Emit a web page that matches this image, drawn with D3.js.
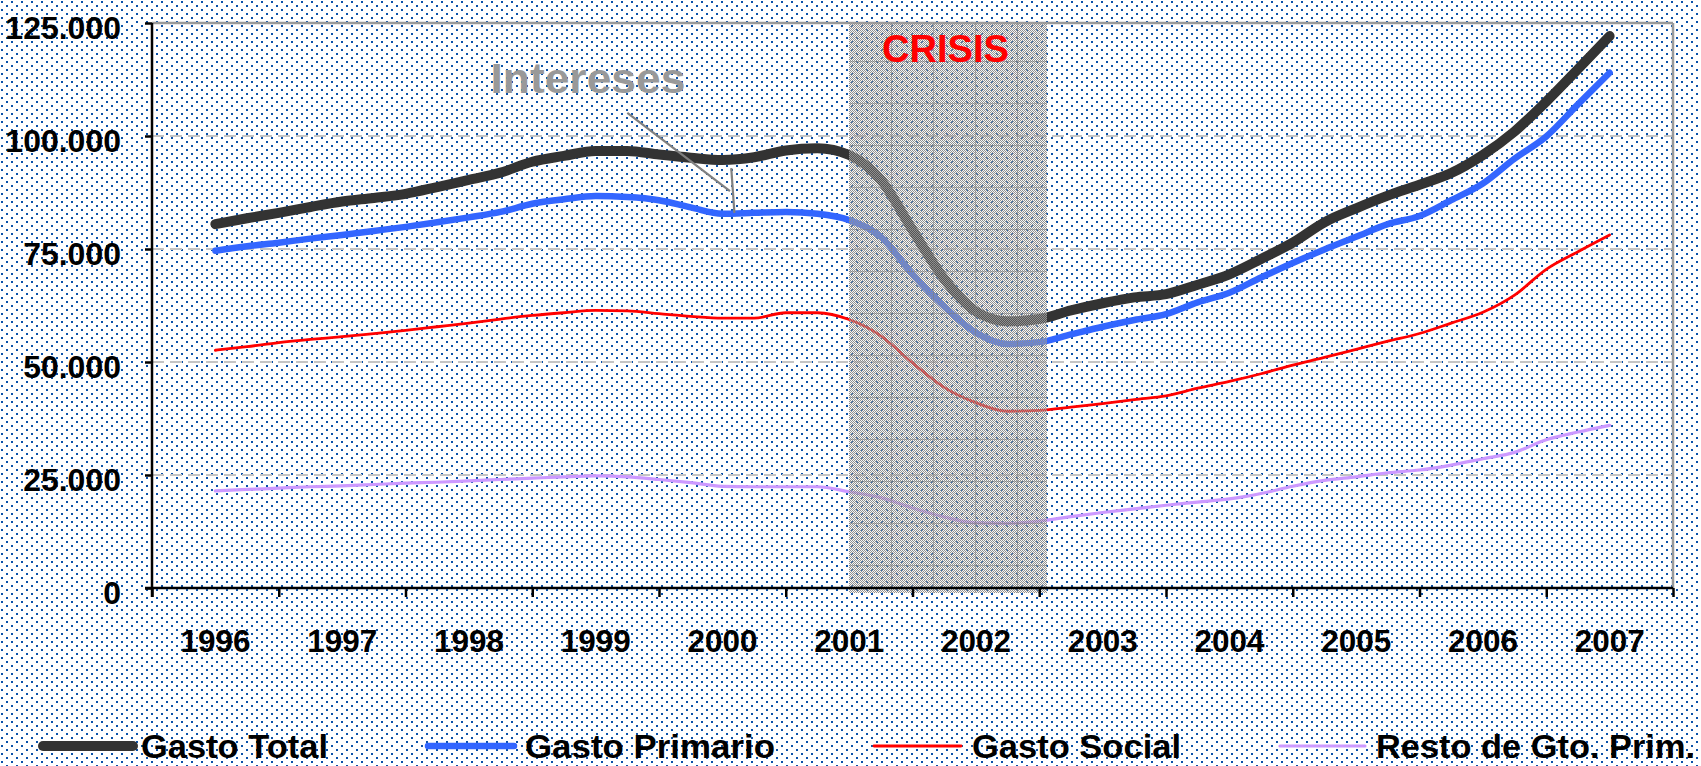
<!DOCTYPE html>
<html>
<head>
<meta charset="utf-8">
<script src="https://cdn.jsdelivr.net/npm/d3@7"></script>
<style>
  html, body { margin: 0; padding: 0; background: #fff; }
  svg { display: block; }
  text { font-family: "Liberation Sans", Arial, sans-serif; font-weight: bold; }
</style>
</head>
<body>
<svg id="chart" width="1701" height="766"></svg>
<script>
// ---------------- DATA ----------------
const years = ["1996","1997","1998","1999","2000","2001","2002","2003","2004","2005","2006","2007"];
const yTicks = [0, 25000, 50000, 75000, 100000, 125000];

const periods = [1996.5,1996.75,1997,1997.25,1997.5,1997.75,1998,1998.25,1998.5,1998.75,
  1999,1999.25,1999.5,1999.75,2000,2000.25,2000.5,2000.75,2001,2001.25,
  2001.5,2001.75,2002,2002.25,2002.5,2002.75,2003,2003.25,2003.5,2003.75,
  2004,2004.25,2004.5,2004.75,2005,2005.25,2005.5,2005.75,2006,2006.25,
  2006.5,2006.75,2007,2007.25,2007.5];

const gastoTotal = [80500,81800,83000,84300,85500,86300,87200,88700,90300,91900,
  94300,95600,96700,96700,95900,95200,94700,95300,96800,97300,
  95800,90300,79200,68400,61200,59000,59500,61400,63000,64300,
  65000,67100,69400,72800,76400,80900,84000,86800,89200,91800,
  95800,101000,107600,114800,122100];

const gastoPrimario = [74600,75600,76400,77300,78100,79000,79900,80900,82000,83200,
  85000,86000,86700,86500,85800,84200,82800,83000,83200,82800,
  81400,77700,69400,62300,56500,54000,54400,56100,57800,59300,
  60600,63200,65300,68700,71900,74900,77700,80500,82300,85800,
  89500,95000,99900,107000,114000];

const gastoSocial = [52600,53400,54300,55000,55600,56300,57000,57800,58600,59500,
  60300,60900,61400,61300,60700,60100,59700,59700,60900,60900,
  59400,55800,49800,44400,41000,39100,39300,40000,40800,41700,
  42500,44200,45700,47400,49300,51000,52800,54600,56300,58600,
  61000,64800,70500,74400,78100];

const restoPrim = [21500,21800,22100,22400,22600,22900,23200,23400,23700,24000,
  24300,24600,24800,24600,24000,23300,22500,22400,22400,22400,
  21300,20000,17700,15700,14400,14300,14800,15800,16700,17500,
  18300,19000,19700,20900,22500,23800,24600,25500,26100,27200,
  28600,30000,32800,34500,36000];

const seriesNames  = ["Gasto Total", "Gasto Primario", "Gasto Social", "Resto de Gto. Prim."];
const seriesValues = [gastoTotal, gastoPrimario, gastoSocial, restoPrim];
const seriesColors = ["#333333", "#3366ff", "#ff0000", "#cc99ff"];
const seriesWidths = [10, 6.5, 2.8, 3.2];

const crisisSpan = [2001.5, 2003.06];
const crisisLabel = "CRISIS";
const crisisLabelPos = [2002.26, 116400];
const interesesLabel = "Intereses";
const interesesLabelPos = [1998.67, 109500];
const interesesPointers = [
  [[1999.75, 105100], [2000.56, 87800]],
  [[2000.57, 92900], [2000.595, 83000]]
];

// ---------------- LAYOUT ----------------
const W = 1701, H = 766;
const plot = { left: 152, right: 1673, top: 23, bottom: 588 };

const svg = d3.select("#chart");
const defs = svg.append("defs");

// background dot pattern
const dots = defs.append("pattern").attr("id", "dots")
  .attr("width", 10).attr("height", 8).attr("patternUnits", "userSpaceOnUse");
dots.append("rect").attr("width", 10).attr("height", 8).attr("fill", "#ffffff");
dots.append("rect").attr("x", 1).attr("y", 1).attr("width", 2).attr("height", 2).attr("fill", "#0a50a8");
dots.append("rect").attr("x", 6).attr("y", 5).attr("width", 2).attr("height", 2).attr("fill", "#0a50a8");

// crisis checker pattern
const chk = defs.append("pattern").attr("id", "checker")
  .attr("width", 2).attr("height", 2).attr("patternUnits", "userSpaceOnUse");
chk.append("rect").attr("x", 0).attr("y", 0).attr("width", 1).attr("height", 1).attr("fill", "#909090");
chk.append("rect").attr("x", 1).attr("y", 1).attr("width", 1).attr("height", 1).attr("fill", "#909090");
chk.append("rect").attr("x", 1).attr("y", 0).attr("width", 1).attr("height", 1).attr("fill", "#d8d8d8").attr("fill-opacity", 0.2);
chk.append("rect").attr("x", 0).attr("y", 1).attr("width", 1).attr("height", 1).attr("fill", "#d8d8d8").attr("fill-opacity", 0.2);

svg.append("rect").attr("width", W).attr("height", H).attr("fill", "url(#dots)");

// scales
const x = d3.scaleLinear().domain([1996, 2008]).range([plot.left, plot.right]);
const xBand = d3.scaleBand().domain(years).range([plot.left, plot.right]);
const y = d3.scaleLinear().domain([0, 125000]).range([plot.bottom, plot.top]);

// gridlines
svg.append("g").selectAll("line").data(yTicks.filter(d => d > 0 && d < 125000)).join("line")
  .attr("x1", plot.left).attr("x2", plot.right)
  .attr("y1", d => y(d)).attr("y2", d => y(d))
  .attr("stroke", "#c4c4c4").attr("stroke-width", 2).attr("stroke-dasharray", "12,6");

// plot frame top & right
svg.append("line").attr("x1", plot.left).attr("x2", plot.right).attr("y1", y(125000)).attr("y2", y(125000))
  .attr("stroke", "#9a9a9a").attr("stroke-width", 2.5);
svg.append("line").attr("x1", plot.right).attr("x2", plot.right).attr("y1", plot.top).attr("y2", plot.bottom)
  .attr("stroke", "#9a9a9a").attr("stroke-width", 2.5);

// lines
const line = d3.line().x((d, i) => x(periods[i])).y(d => y(d)).curve(d3.curveMonotoneX);
svg.append("g").selectAll("path").data(seriesValues).join("path")
  .attr("d", d => line(d))
  .attr("fill", "none")
  .attr("stroke", (d, i) => seriesColors[i])
  .attr("stroke-width", (d, i) => seriesWidths[i])
  .attr("stroke-linecap", "round").attr("stroke-linejoin", "round");

// crisis band (on top of lines, semi-transparent checker)
const cx0 = x(crisisSpan[0]), cx1 = x(crisisSpan[1]);
svg.append("rect").attr("x", cx0).attr("y", plot.top).attr("width", cx1 - cx0).attr("height", plot.bottom + 5 - plot.top)
  .attr("fill", "url(#checker)").attr("shape-rendering", "crispEdges");
const cg = svg.append("g").attr("stroke", "#7a7a7a").attr("stroke-width", 1).attr("stroke-opacity", 0.5)
  .attr("shape-rendering", "crispEdges");
d3.range(cx0 + 42, cx1, 42).forEach(v => cg.append("line").attr("x1", v).attr("x2", v).attr("y1", plot.top).attr("y2", plot.bottom + 5));
d3.range(plot.top + 38, plot.bottom, 42).forEach(v => cg.append("line").attr("x1", cx0).attr("x2", cx1).attr("y1", v).attr("y2", v));

svg.append("text").attr("x", x(crisisLabelPos[0])).attr("y", y(crisisLabelPos[1]))
  .attr("text-anchor", "middle").attr("font-size", 39).attr("fill", "#ff0000")
  .attr("textLength", 127).attr("lengthAdjust", "spacingAndGlyphs").text(crisisLabel);

// axes
const yAxis = d3.axisLeft(y).tickValues(yTicks).tickSize(7).tickPadding(24)
  .tickFormat(d => d3.format(",")(d).replace(/,/g, "."));
const gy = svg.append("g").attr("transform", `translate(${plot.left},0)`).call(yAxis);
gy.select(".domain").attr("stroke", "#000").attr("stroke-width", 2.5).attr("d", `M0,${plot.top}V${plot.bottom + 9}`);
gy.selectAll(".tick line").attr("stroke", "#000").attr("stroke-width", 2.5);
gy.selectAll(".tick text").attr("font-size", 32).attr("fill", "#000").attr("font-family", "Liberation Sans, Arial, sans-serif")
  .attr("font-weight", "bold").attr("dy", "0.47em");

// x axis line + ticks at year boundaries
const xTickAxis = d3.axisBottom(x).tickValues(d3.range(1996, 2009)).tickSize(9).tickFormat("");
const gx = svg.append("g").attr("transform", `translate(0,${plot.bottom})`).call(xTickAxis);
gx.select(".domain").attr("stroke", "#000").attr("stroke-width", 2.5).attr("d", `M${plot.left - 7},0H${plot.right}`);
gx.selectAll(".tick line").attr("stroke", "#000").attr("stroke-width", 2.5);

const xLabelAxis = d3.axisBottom(xBand).tickSize(0).tickPadding(0);
const gxl = svg.append("g").attr("transform", `translate(0,${plot.bottom})`).call(xLabelAxis);
gxl.select(".domain").remove();
gxl.selectAll(".tick text").attr("font-size", 32).attr("fill", "#000").attr("font-family", "Liberation Sans, Arial, sans-serif")
  .attr("font-weight", "bold").attr("dy", 0).attr("y", 64).attr("textLength", 70).attr("lengthAdjust", "spacingAndGlyphs");

// Intereses annotation
svg.append("text").attr("x", x(interesesLabelPos[0])).attr("y", y(interesesLabelPos[1]))
  .attr("font-size", 43).attr("fill", "#999999").attr("textLength", 195).attr("lengthAdjust", "spacingAndGlyphs")
  .text(interesesLabel);
svg.append("g").selectAll("line").data(interesesPointers).join("line")
  .attr("x1", d => x(d[0][0])).attr("y1", d => y(d[0][1]))
  .attr("x2", d => x(d[1][0])).attr("y2", d => y(d[1][1]))
  .attr("stroke", "#808080").attr("stroke-width", 2.2);

// legend
const legendItems = [
  { lx: 43, lx2: 133, tx: 141, tw: 187 },
  { lx: 428, lx2: 514, tx: 525, tw: 250 },
  { lx: 874, lx2: 961, tx: 972, tw: 209 },
  { lx: 1280, lx2: 1365, tx: 1376, tw: 319 }
];
const lg = svg.append("g");
legendItems.forEach((it, i) => {
  lg.append("line").attr("x1", it.lx).attr("x2", it.lx2).attr("y1", 746).attr("y2", 746)
    .attr("stroke", seriesColors[i]).attr("stroke-width", seriesWidths[i]).attr("stroke-linecap", "round");
  lg.append("text").attr("x", it.tx).attr("y", 758).attr("font-size", 34).attr("fill", "#000")
    .attr("textLength", it.tw).attr("lengthAdjust", "spacingAndGlyphs").text(seriesNames[i]);
});
</script>
</body>
</html>
